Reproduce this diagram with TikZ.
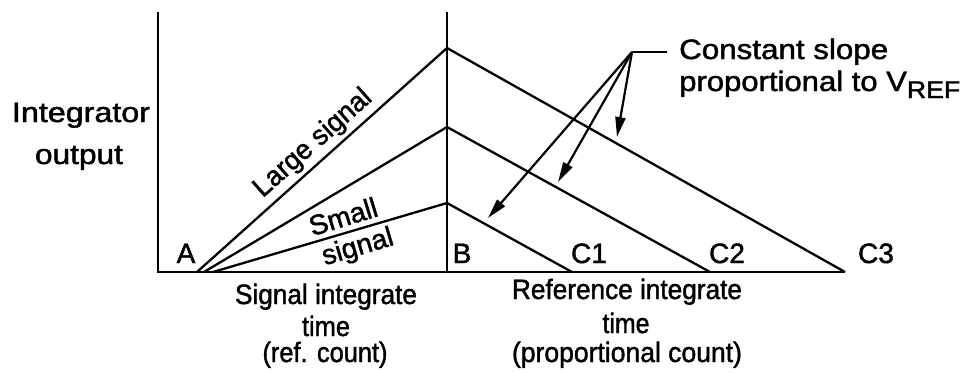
\documentclass[tikz,border=0pt]{standalone}
\usepackage{fontspec}
\setmainfont{Liberation Sans}[FakeBold=1.5]
\usetikzlibrary{arrows.meta}
\newcommand\fitw[2]{\resizebox{#1pt}{\height}{#2}}
\begin{document}
\begin{tikzpicture}[x=1pt,y=-1pt,
  curve/.style={line width=2.3pt},
  lbl/.style={inner sep=0pt, anchor=base, font=\fontsize{28}{32}\selectfont},
  leader/.style={line width=2.2pt},
  pointer/.style={line width=2.2pt, -{Triangle[length=20pt,width=10pt]}}]
\useasboundingbox (0,0) rectangle (963,372);
% axes and traces
\coordinate (O) at (158,272);
\coordinate (Ytop) at (158,12);
\coordinate (Mtop) at (447,12);
\coordinate (Mbot) at (447,272);
\coordinate (A1) at (197,272);
\coordinate (A2) at (204,272);
\coordinate (A3) at (213,272);
\coordinate (P1) at (447,48);
\coordinate (P2) at (447,127);
\coordinate (P3) at (447,203);
\coordinate (C1e) at (572,272);
\coordinate (C2e) at (710,272);
\coordinate (C3e) at (845,272);
\draw[curve] (Ytop) -- (O) -- (C3e);
\draw[curve] (Mtop) -- (Mbot);
\draw[curve] (A1) -- (P1) -- (C3e);
\draw[curve] (A2) -- (P2) -- (C2e);
\draw[curve] (A3) -- (P3) -- (C1e);
% labels
\node[lbl] (intg) at (81,122) {\fitw{138}{Integrator}};
\node[lbl] (outp) at (79,164) {\fitw{88}{output}};
\node[lbl] (la) at (186,263) {A};
\node[lbl] (lb) at (462,263) {B};
\node[lbl] (lc1) at (589,263) {C1};
\node[lbl] (lc2) at (727,263) {C2};
\node[lbl] (lc3) at (876,263) {C3};
\node[lbl, rotate=41.7] (large) at (318,149) {\fitw{148}{Large signal}};
\node[lbl, rotate=17] (small) at (346,226) {Small};
\node[lbl, rotate=16.5] (smallb) at (360,255) {signal};
\node[lbl] (sit1) at (326,304) {\fitw{182}{Signal integrate}};
\node[lbl] (sit2) at (326,336) {\fitw{48}{time}};
\node[lbl] (sit3) at (325,362) {\fitw{125}{(ref. count)}};
\node[lbl] (rit1) at (627,299) {\fitw{230}{Reference integrate}};
\node[lbl] (rit2) at (626,333) {\fitw{47}{time}};
\node[lbl] (rit3) at (627,362) {\fitw{230}{(proportional count)}};
\node[lbl, anchor=base west] (cs1) at (679,59) {\fitw{209}{Constant slope}};
\node[lbl, anchor=base west] (cs2) at (679,91) {\fitw{281}{proportional to V\raisebox{-7pt}{\fontsize{24}{24}\selectfont REF}}};
% pointers
\coordinate (Lend) at (667,52);
\coordinate (Lhub) at (632,52);
\coordinate (T1) at (488,218);
\coordinate (T2) at (558,182);
\coordinate (T3) at (617,137);
\draw[leader] (Lend) -- (Lhub);
\draw[pointer] (Lhub) -- (T1);
\draw[pointer] (Lhub) -- (T2);
\draw[pointer] (Lhub) -- (T3);
\end{tikzpicture}
\end{document}
